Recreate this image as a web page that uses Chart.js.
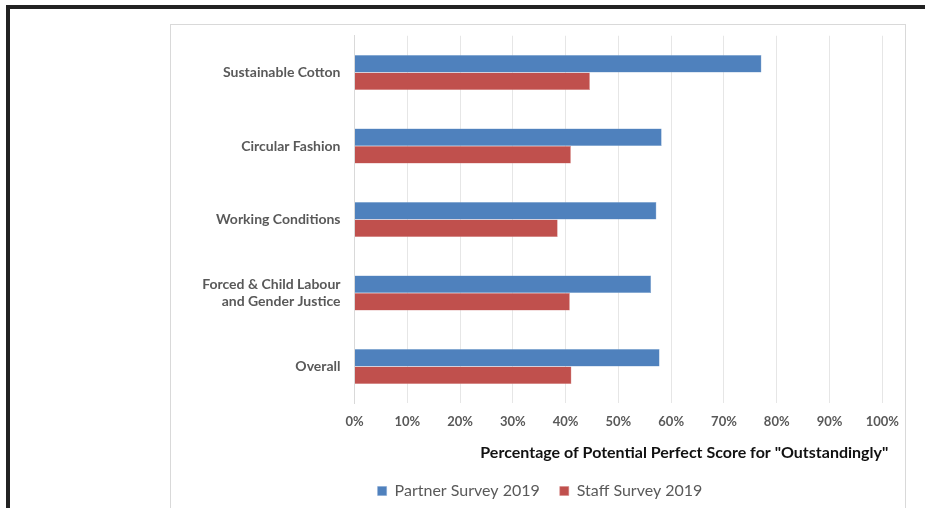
<!DOCTYPE html>
<html><head><meta charset="utf-8">
<script src="https://cdn.jsdelivr.net/npm/chart.js@4/dist/chart.umd.min.js"></script>
<style>
html,body{margin:0;padding:0;background:#fff;width:925px;height:508px;overflow:hidden;position:relative;}
#frame{position:absolute;left:6px;top:5px;width:1000px;height:600px;border-top:4px solid #222;border-left:4px solid #222;}
#box{position:absolute;left:170px;top:24px;width:734px;height:520px;border:1px solid #d9d9d9;background:#fff;}
#wrap{position:absolute;left:0;top:0;width:734px;height:484px;}
</style>
</head><body>
<div id="frame"></div>
<div id="box"><div id="wrap"><canvas id="c"></canvas></div></div>
<script>
const categories = ['Sustainable Cotton', 'Circular Fashion', 'Working Conditions', ['Forced & Child Labour', 'and Gender Justice'], 'Overall'];
const partnerSurvey2019 = [77.1, 58.2, 57.2, 56.2, 57.8];
const staffSurvey2019 = [44.6, 41.0, 38.5, 40.8, 41.1];
const seriesNames = ['Partner Survey 2019', 'Staff Survey 2019'];
const xAxisTitle = 'Percentage of Potential Perfect Score for "Outstandingly"';

const FONT = "Lato, 'Open Sans', sans-serif";
const PAD_LEFT = 26.7;

// nudge the x-axis title slightly past the plot's right edge, as in the reference
const titleNudge = {
  id: 'titleNudge',
  afterLayout(chart) { chart.scales.x.right += 6; }
};

new Chart(document.getElementById('c'), {
  type: 'bar',
  data: {
    labels: categories,
    datasets: [
      {label: seriesNames[0], data: partnerSurvey2019, backgroundColor: '#4F81BD', borderColor: '#7FA3D0', borderWidth: 0.5, categoryPercentage: 0.476, barPercentage: 1},
      {label: seriesNames[1], data: staffSurvey2019, backgroundColor: '#C0504D', borderColor: '#D48583', borderWidth: 0.5, categoryPercentage: 0.476, barPercentage: 1}
    ]
  },
  plugins: [titleNudge],
  options: {
    indexAxis: 'y',
    responsive: true,
    maintainAspectRatio: false,
    animation: false,
    layout: {padding: {top: 10.75, right: 22.7, left: PAD_LEFT, bottom: 0}},
    plugins: {
      tooltip: {enabled: false},
      legend: {
        position: 'bottom',
        labels: {boxWidth: 9, boxHeight: 9, padding: 20, color: '#595959', font: {family: FONT, size: 16}}
      }
    },
    scales: {
      x: {
        min: 0, max: 100,
        ticks: {stepSize: 10, callback: v => v + '%', color: '#595959', padding: 10.6, font: {family: FONT, size: 13, weight: 'bold'}, maxRotation: 0},
        grid: {color: '#e6e6e6', drawTicks: false},
        border: {display: false},
        title: {display: true, text: xAxisTitle, align: 'end', color: '#111', font: {family: FONT, size: 16, weight: 'bold'}, padding: {top: 4, bottom: 0.4}},
        afterFit: s => { s.height = 59.75; s.paddingTop = 0; s.paddingBottom = 0; s.paddingLeft = 0; s.paddingRight = 0; }
      },
      y: {
        ticks: {color: '#595959', padding: 14, font: {family: FONT, size: 14, weight: 'bold', lineHeight: 1.2}},
        grid: {display: false, drawTicks: false},
        border: {display: true, color: '#d9d9d9'},
        afterFit: s => { s.width = 183.5 - PAD_LEFT; s.paddingTop = 0; s.paddingBottom = 0; }
      }
    }
  }
});
</script>
</body></html>
